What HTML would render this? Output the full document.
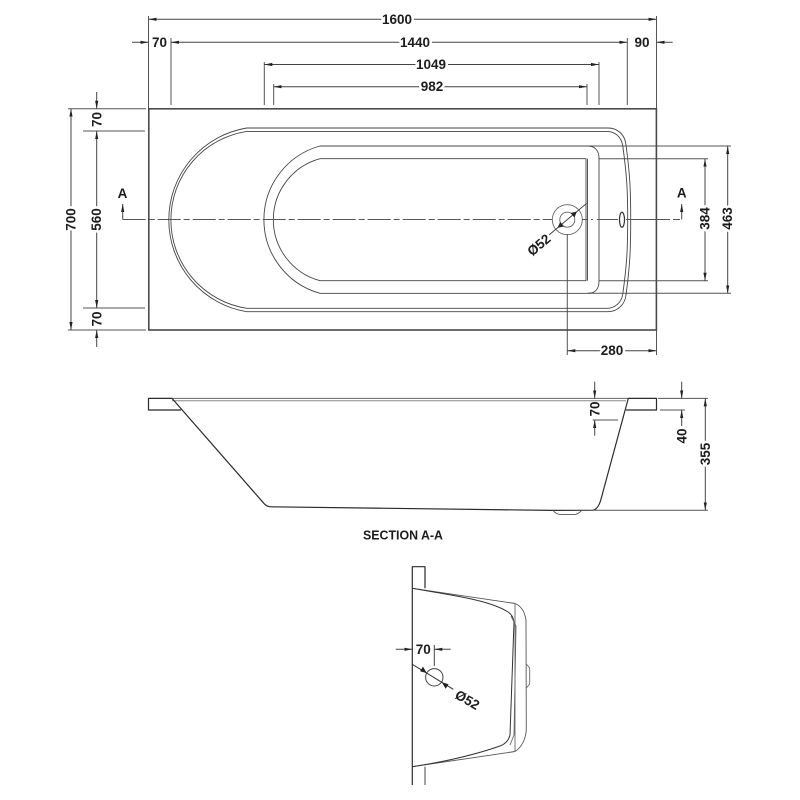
<!DOCTYPE html>
<html lang="en">
<head>
<meta charset="utf-8">
<title>Bath dimensions</title>
<style>
html,body{margin:0;padding:0;background:#fff}
svg{display:block}
text{font-family:"Liberation Sans",sans-serif;font-weight:700;font-size:13.5px;fill:#1c1c1c;text-anchor:middle;dominant-baseline:central;paint-order:stroke;stroke:#fff;stroke-width:5px;stroke-linejoin:round}
.n text{stroke:none}
</style>
</head>
<body>
<svg width="800" height="800" viewBox="0 0 800 800" xmlns="http://www.w3.org/2000/svg">
<defs>
<filter id="b" x="-5%" y="-5%" width="110%" height="110%"><feGaussianBlur stdDeviation="0.35"/></filter>
<marker id="a" markerUnits="userSpaceOnUse" markerWidth="9" markerHeight="6" refX="8" refY="2.5" orient="auto-start-reverse"><path d="M0 0.9L8 2.5L0 4.1Z" fill="#222"/></marker>
</defs>
<g filter="url(#b)">
<g fill="none" stroke="#555" stroke-width="1">
<!-- plan extension lines -->
<path d="M148.5 16V108M656.5 16V108M171 38V105M627.3 38V105M264.3 62V105M599 62V105M273.7 84V105M587 84V105"/>
<path d="M68 108.7H146M83 131H145M83 308H145M68 330H146"/>
<path d="M588 146H731M599 158.7H708M599 280.7H708M588 293.3H731"/>
<path d="M567.3 234V355M656.5 330V355"/>
</g>
<!-- plan dimensions -->
<g fill="none" stroke="#444" stroke-width="1">
<line x1="148.5" y1="19.3" x2="656.5" y2="19.3" marker-start="url(#a)" marker-end="url(#a)"/>
<line x1="171" y1="42.3" x2="627.3" y2="42.3" marker-start="url(#a)" marker-end="url(#a)"/>
<line x1="264.3" y1="64.5" x2="599" y2="64.5" marker-start="url(#a)" marker-end="url(#a)"/>
<line x1="273.7" y1="86.7" x2="587" y2="86.7" marker-start="url(#a)" marker-end="url(#a)"/>
<line x1="132" y1="42.3" x2="148.5" y2="42.3" marker-end="url(#a)"/>
<line x1="672.7" y1="42.3" x2="656.5" y2="42.3" marker-end="url(#a)"/>
<line x1="71" y1="108.7" x2="71" y2="330" marker-start="url(#a)" marker-end="url(#a)"/>
<line x1="96.7" y1="92" x2="96.7" y2="108.7" marker-end="url(#a)"/>
<line x1="96.7" y1="131" x2="96.7" y2="308" marker-start="url(#a)" marker-end="url(#a)"/>
<line x1="96.7" y1="347" x2="96.7" y2="330" marker-end="url(#a)"/>
<line x1="705" y1="158.7" x2="705" y2="280.7" marker-start="url(#a)" marker-end="url(#a)"/>
<line x1="727.7" y1="146" x2="727.7" y2="293.3" marker-start="url(#a)" marker-end="url(#a)"/>
<line x1="567.3" y1="350.7" x2="656.5" y2="350.7" marker-start="url(#a)" marker-end="url(#a)"/>
<line x1="122.7" y1="219.5" x2="122.7" y2="204" marker-end="url(#a)"/>
<line x1="681.7" y1="219.5" x2="681.7" y2="204" marker-end="url(#a)"/>
</g>
<!-- plan outline -->
<rect x="148.8" y="108.8" width="507.6" height="221.2" fill="none" stroke="#4a4a4a" stroke-width="1.6"/>
<!-- rim -->
<g fill="none" stroke="#444" stroke-width="0.9">
<path d="M246.7 128H608C618 128 625 135 626 145C630 175 630.7 190 630.7 219.7C630.7 250 630 265 626 295C625 304 618 311.7 608 311.7H246.7A93.1 93.1 0 0 1 246.7 128Z"/>
<path d="M246.7 131.4H607C615 131.4 621.5 137 622.8 146C626.8 175 627.7 190 627.7 219.7C627.7 250 626.8 265 622.8 294C621.5 302.5 615 308.3 607 308.3H246.7A89.5 89.5 0 0 1 246.7 131.4Z"/>
<!-- basin -->
<path d="M320 146H588C595 146 599 151 599 158V281C599 289 595 293.3 588 293.3H320A76.4 76.4 0 0 1 320 146Z"/>
<path d="M320 158.7H586V280.7H320A63.2 63.2 0 0 1 320 158.7Z"/>
<path d="M587.5 158.7V280.7"/>
<!-- drain -->
<circle cx="567.3" cy="219.7" r="15" stroke="#666"/>
<circle cx="567.3" cy="219.7" r="7.5" stroke="#666"/>
<ellipse cx="622" cy="219.7" rx="2.5" ry="7.5" stroke="#333" stroke-width="1.2"/>
</g>
<!-- centre line -->
<g fill="none" stroke="#555" stroke-width="1">
<path d="M122.7 219.5H552" stroke-dasharray="23 3 6 3"/>
<path d="M582 219.5H593" stroke-dasharray="6 3"/>
<path d="M597 219.5H618M626 219.5H663" />
<path d="M663 219.5H681.7" stroke-dasharray="7 3"/>
</g>
<line x1="586.7" y1="203.3" x2="549" y2="235" stroke="#333" stroke-width="0.9"/>
<path d="M577 211.5L574.4 217.5L570.6 213Z" fill="#222"/>
<path d="M557.6 227.9L560.2 221.9L564 226.4Z" fill="#222"/>
<!-- section -->
<g fill="none" stroke-linejoin="round">
<path d="M172 400.8H626" stroke="#888" stroke-width="1"/>
<path d="M172 398.4H628" stroke="#666" stroke-width="1"/>
<path d="M181 410H148.5V398.4H172L263.3 502.7Q266.5 506.7 271 506.8L553 510.4L593 510.2Q598 509 600.5 501L628.3 398.4H656.5V410H626" stroke="#2b2b2b" stroke-width="1.2"/>
<path d="M553 510.4Q556 514.4 561 514.6H574Q578 514.6 581.7 510.3" stroke="#555" stroke-width="0.9"/>
<path d="M592.7 420H618M658 398.4H708M660 410H685M593 510.3H708" stroke="#555" stroke-width="1"/>
</g>
<g fill="none" stroke="#444" stroke-width="1">
<line x1="594.7" y1="381.7" x2="594.7" y2="398.4" marker-end="url(#a)"/>
<line x1="594.7" y1="435.7" x2="594.7" y2="420" marker-end="url(#a)"/>
<line x1="681.7" y1="381.7" x2="681.7" y2="398.4" marker-end="url(#a)"/>
<line x1="681.7" y1="426" x2="681.7" y2="410" marker-end="url(#a)"/>
<line x1="705.3" y1="398.4" x2="705.3" y2="510.3" marker-start="url(#a)" marker-end="url(#a)"/>
</g>
<!-- end view -->
<g fill="none" stroke-linejoin="round">
<path d="M412.3 785V566.7H425V588.3" stroke="#2b2b2b" stroke-width="1.2"/>
<path d="M425 766.7V785" stroke="#444" stroke-width="1"/>
<path d="M412.3 588.3L515 603.5Q524 607 526 620L526.3 730Q525 745 515 751.5L412.3 766.7" stroke="#555" stroke-width="0.9"/>
<path d="M412.3 588.3C450 595 490 600 508 612Q513 615 514 622L510 735Q508 743 500 746C480 753 450 761 412.3 766.7" stroke="#333" stroke-width="1"/>
<path d="M515 603.5V751.5" stroke="#666" stroke-width="0.9"/>
<path d="M511 616L516 626L514 735L510 745M526.3 664L529.7 668V684L526.3 688" stroke="#666" stroke-width="0.9"/>
<circle cx="434.3" cy="677.3" r="8.7" stroke="#444" stroke-width="1"/>
<path d="M434.3 645V666" stroke="#444" stroke-width="1"/>
</g>
<g fill="none" stroke="#444" stroke-width="1">
<line x1="395.7" y1="649.3" x2="412.3" y2="649.3" marker-end="url(#a)"/>
<line x1="450.7" y1="649.3" x2="434.3" y2="649.3" marker-end="url(#a)"/>
<line x1="412.3" y1="664.3" x2="453.3" y2="689.3" stroke="#333"/>
</g>
<path d="M426.8 673.1L420 671.2L423 666.6Z" fill="#222"/>
<path d="M441.8 682.3L448.6 684.2L445.6 688.8Z" fill="#222"/>
<!-- labels -->
<text x="397" y="19.3">1600</text>
<text x="159.5" y="42.3">70</text>
<text x="415" y="42.3">1440</text>
<text x="642" y="42.3">90</text>
<text x="431" y="64.5">1049</text>
<text x="432" y="86.7">982</text>
<g class="n">
<text x="122.5" y="193.5">A</text>
<text x="681.7" y="193">A</text>
<text x="403" y="535.3" style="font-size:12.5px" textLength="80" lengthAdjust="spacingAndGlyphs">SECTION A-A</text>
<text x="423.3" y="649.3">70</text>
</g>
<text transform="translate(71 219.5) rotate(-90)">700</text>
<text transform="translate(96.7 219.5) rotate(-90)">560</text>
<text transform="translate(97 119.5) rotate(-90)">70</text>
<text transform="translate(97 319) rotate(-90)">70</text>
<text transform="translate(705 218.5) rotate(-90)">384</text>
<text transform="translate(727.7 218.5) rotate(-90)">463</text>
<text x="612" y="350.7">280</text>
<text transform="translate(539 245) rotate(-40)">Ø52</text>
<text transform="translate(595 409) rotate(-90)" style="stroke:none">70</text>
<text transform="translate(682 436) rotate(-90)">40</text>
<text transform="translate(705.3 454) rotate(-90)">355</text>
<text transform="translate(467.3 700) rotate(30)" style="stroke:none">Ø52</text>
</g>
</svg>
</body>
</html>
